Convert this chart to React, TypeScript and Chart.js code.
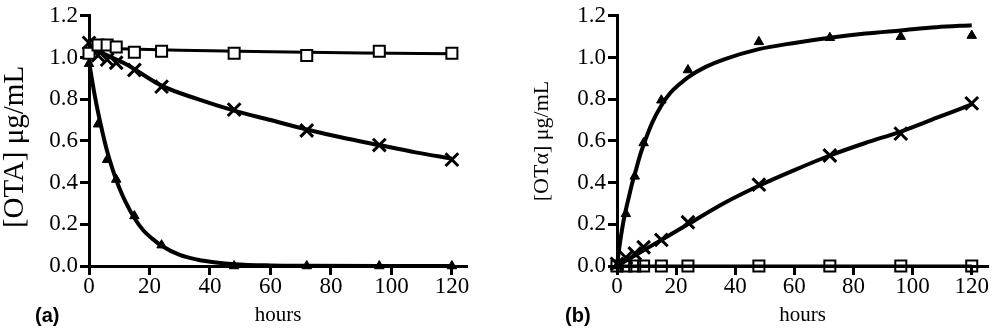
import React, { useEffect, useRef } from 'react';
import { Chart, registerables } from 'chart.js';

Chart.register(...registerables);

// ---- shared axes ----
const HOURS = [0, 3, 6, 9, 15, 24, 48, 72, 96, 120];
const X_TICKS = [0, 20, 40, 60, 80, 100, 120];
const Y_TICKS = [0, 0.2, 0.4, 0.6, 0.8, 1.0, 1.2];

// ---- panel (a): [OTA] ----
const A_SQUARES = [1.02, 1.06, 1.06, 1.05, 1.025, 1.03, 1.02, 1.01, 1.03, 1.02];
const A_CROSSES = [1.07, 1.01, 0.99, 0.975, 0.94, 0.86, 0.75, 0.65, 0.58, 0.51];
const A_TRIANGLES = [0.97, 0.68, 0.51, 0.415, 0.24, 0.1, 0.0, 0.0, 0.0, 0.0];

const A_FIT_S_X = [0, 30, 60, 90, 120];
const A_FIT_S = [1.045, 1.035, 1.028, 1.022, 1.018];
const A_FIT_X_X = [0, 6, 12, 24, 36, 48, 60, 72, 84, 96, 108, 120];
const A_FIT_X = [1.05, 1.01, 0.97, 0.865, 0.8, 0.745, 0.7, 0.655, 0.615, 0.58, 0.545, 0.515];
const A_FIT_T_X = [0, 2, 4, 6, 8, 10, 12, 15, 18, 21, 24, 30, 36, 42, 48, 60, 72, 96, 120];
const A_FIT_T = [0.98, 0.81, 0.67, 0.55, 0.455, 0.375, 0.31, 0.23, 0.17, 0.13, 0.097, 0.053, 0.03, 0.017, 0.009, 0.003, 0.001, 0, 0];

// ---- panel (b): [OTα] ----
const B_SQUARES = [0, 0, 0, 0, 0, 0, 0, 0, 0, 0];
const B_CROSSES = [0.01, 0.04, 0.06, 0.09, 0.125, 0.21, 0.39, 0.53, 0.635, 0.78];
const B_TRIANGLES = [0, 0.25, 0.43, 0.59, 0.795, 0.94, 1.075, 1.095, 1.1, 1.105];

const B_FIT_S_X = [0, 120];
const B_FIT_S = [0, 0];
const B_FIT_X_X = [0, 3, 6, 9, 12, 15, 24, 36, 48, 60, 72, 84, 96, 108, 120];
const B_FIT_X = [0, 0.025, 0.05, 0.075, 0.1, 0.125, 0.2, 0.3, 0.385, 0.46, 0.53, 0.59, 0.645, 0.71, 0.775];
const B_FIT_T_X = [0, 1, 2, 3, 4, 5, 6, 8, 10, 12, 15, 18, 21, 24, 30, 36, 48, 60, 72, 84, 96, 108, 120];
const B_FIT_T = [0, 0.11, 0.2, 0.27, 0.33, 0.39, 0.44, 0.54, 0.62, 0.69, 0.77, 0.83, 0.87, 0.905, 0.955, 0.99, 1.04, 1.07, 1.095, 1.115, 1.13, 1.145, 1.155];

const SERIF = "'Liberation Serif', 'Times New Roman', serif";

const pts = (xs: number[], ys: number[]) => xs.map((x, i) => ({ x, y: ys[i] }));

function markers(ys: number[], kind: 'sq' | 'x' | 'tri', squareFill: string) {
  const base: any = {
    data: pts(HOURS, ys),
    showLine: false,
    clip: false,
    borderColor: '#000',
  };
  if (kind === 'sq') {
    return { ...base, pointStyle: 'rect', pointRadius: 7.8, pointBorderWidth: 2, pointBackgroundColor: squareFill, pointBorderColor: '#000' };
  }
  if (kind === 'x') {
    return { ...base, pointStyle: 'crossRot', pointRadius: 9, pointBorderWidth: 3, pointBackgroundColor: '#000', pointBorderColor: '#000' };
  }
  return { ...base, pointStyle: 'triangle', pointRadius: 5.5, pointBorderWidth: 1, pointBackgroundColor: '#000', pointBorderColor: '#000' };
}

function fit(xs: number[], ys: number[], width: number) {
  return {
    data: pts(xs, ys),
    showLine: true,
    pointRadius: 0,
    borderColor: '#000',
    borderWidth: width,
    cubicInterpolationMode: 'monotone',
    clip: false,
  };
}

// draws the rotated y-axis title at a given spot of the canvas
const yTitlePlugin = {
  id: 'yTitle',
  afterDraw(chart: any, _args: any, opts: any) {
    if (!opts || !opts.text) return;
    const ctx = chart.ctx;
    ctx.save();
    ctx.translate(opts.x, opts.y);
    ctx.rotate(-Math.PI / 2);
    ctx.font = `${opts.size}px ${SERIF}`;
    ctx.fillStyle = '#000';
    ctx.textAlign = 'center';
    ctx.textBaseline = 'middle';
    ctx.fillText(opts.text, 0, 0);
    ctx.restore();
  },
};

function makeConfig(p: {
  squares: number[]; crosses: number[]; triangles: number[];
  fits: [number[], number[], number][];
  squareFill: string;
  yTitle: string; yTitleSize: number; yTitleX: number; yTitleY: number;
  yWidth: number; xMax: number; padRight: number;
}): any {
  return {
    type: 'scatter',
    data: {
      datasets: [
        markers(p.squares, 'sq', p.squareFill),
        markers(p.crosses, 'x', p.squareFill),
        markers(p.triangles, 'tri', p.squareFill),
        ...p.fits.map(([xs, ys, w]) => fit(xs, ys, w)),
      ],
    },
    plugins: [yTitlePlugin],
    options: {
      animation: false,
      responsive: false,
      devicePixelRatio: 1,
      events: [],
      layout: { padding: { left: 0, right: p.padRight, top: 15, bottom: 0 } },
      plugins: {
        legend: { display: false },
        tooltip: { enabled: false },
        yTitle: { text: p.yTitle, size: p.yTitleSize, x: p.yTitleX, y: p.yTitleY },
      },
      scales: {
        x: {
          type: 'linear',
          min: 0,
          max: p.xMax,
          afterBuildTicks: (s: any) => { s.ticks = X_TICKS.map((v) => ({ value: v })); },
          afterFit: (s: any) => { s.height = 65; },
          grid: { drawOnChartArea: false, drawTicks: true, tickLength: 9, tickWidth: 3, tickColor: '#000', color: '#000' },
          border: { display: true, color: '#000', width: 3 },
          ticks: { color: '#000', font: { family: SERIF, size: 23 }, padding: -2, maxRotation: 0, autoSkip: false },
          title: { display: true, text: 'hours', color: '#000', font: { family: SERIF, size: 21 }, padding: { top: 0, bottom: 3 } },
        },
        y: {
          type: 'linear',
          min: 0,
          max: 1.2,
          afterBuildTicks: (s: any) => { s.ticks = Y_TICKS.map((v) => ({ value: v })); },
          afterFit: (s: any) => { s.width = p.yWidth; },
          grid: { drawOnChartArea: false, drawTicks: true, tickLength: 9, tickWidth: 3, tickColor: '#000', color: '#000' },
          border: { display: true, color: '#000', width: 3 },
          ticks: { color: '#000', font: { family: SERIF, size: 23 }, padding: 2, callback: (v: any) => Number(v).toFixed(1), autoSkip: false },
          title: { display: false },
        },
      },
    },
  };
}

export default function App() {
  const refA = useRef<HTMLCanvasElement>(null);
  const refB = useRef<HTMLCanvasElement>(null);

  useEffect(() => {
    const a = new Chart(refA.current!, makeConfig({
      squares: A_SQUARES, crosses: A_CROSSES, triangles: A_TRIANGLES,
      fits: [[A_FIT_S_X, A_FIT_S, 3], [A_FIT_X_X, A_FIT_X, 4], [A_FIT_T_X, A_FIT_T, 4]],
      squareFill: '#fff',
      yTitle: '[OTA] μg/mL', yTitleSize: 29, yTitleX: 15, yTitleY: 147,
      yWidth: 89, xMax: 125, padRight: 33,
    }));
    const b = new Chart(refB.current!, makeConfig({
      squares: B_SQUARES, crosses: B_CROSSES, triangles: B_TRIANGLES,
      fits: [[B_FIT_S_X, B_FIT_S, 3], [B_FIT_X_X, B_FIT_X, 4], [B_FIT_T_X, B_FIT_T, 4]],
      squareFill: 'rgba(255,255,255,0)',
      yTitle: '[OTα] μg/mL', yTitleSize: 22, yTitleX: 42, yTitleY: 141,
      yWidth: 117, xMax: 125.5, padRight: 3,
    }));
    return () => { a.destroy(); b.destroy(); };
  }, []);

  const lbl: React.CSSProperties = {
    position: 'absolute', top: 303, font: "bold 20px 'Liberation Sans', Arial, sans-serif", color: '#000', lineHeight: '24px',
  };

  return (
    <div style={{ position: 'absolute', left: 0, top: 0, width: 1000, height: 331, background: '#fff', overflow: 'hidden' }}>
      <canvas ref={refA} width={500} height={331} style={{ position: 'absolute', left: 0, top: 0, width: 500, height: 331, display: 'block' }} />
      <canvas ref={refB} width={500} height={331} style={{ position: 'absolute', left: 500, top: 0, width: 500, height: 331, display: 'block' }} />
      <div style={{ ...lbl, left: 35 }}>(a)</div>
      <div style={{ ...lbl, left: 565 }}>(b)</div>
    </div>
  );
}
